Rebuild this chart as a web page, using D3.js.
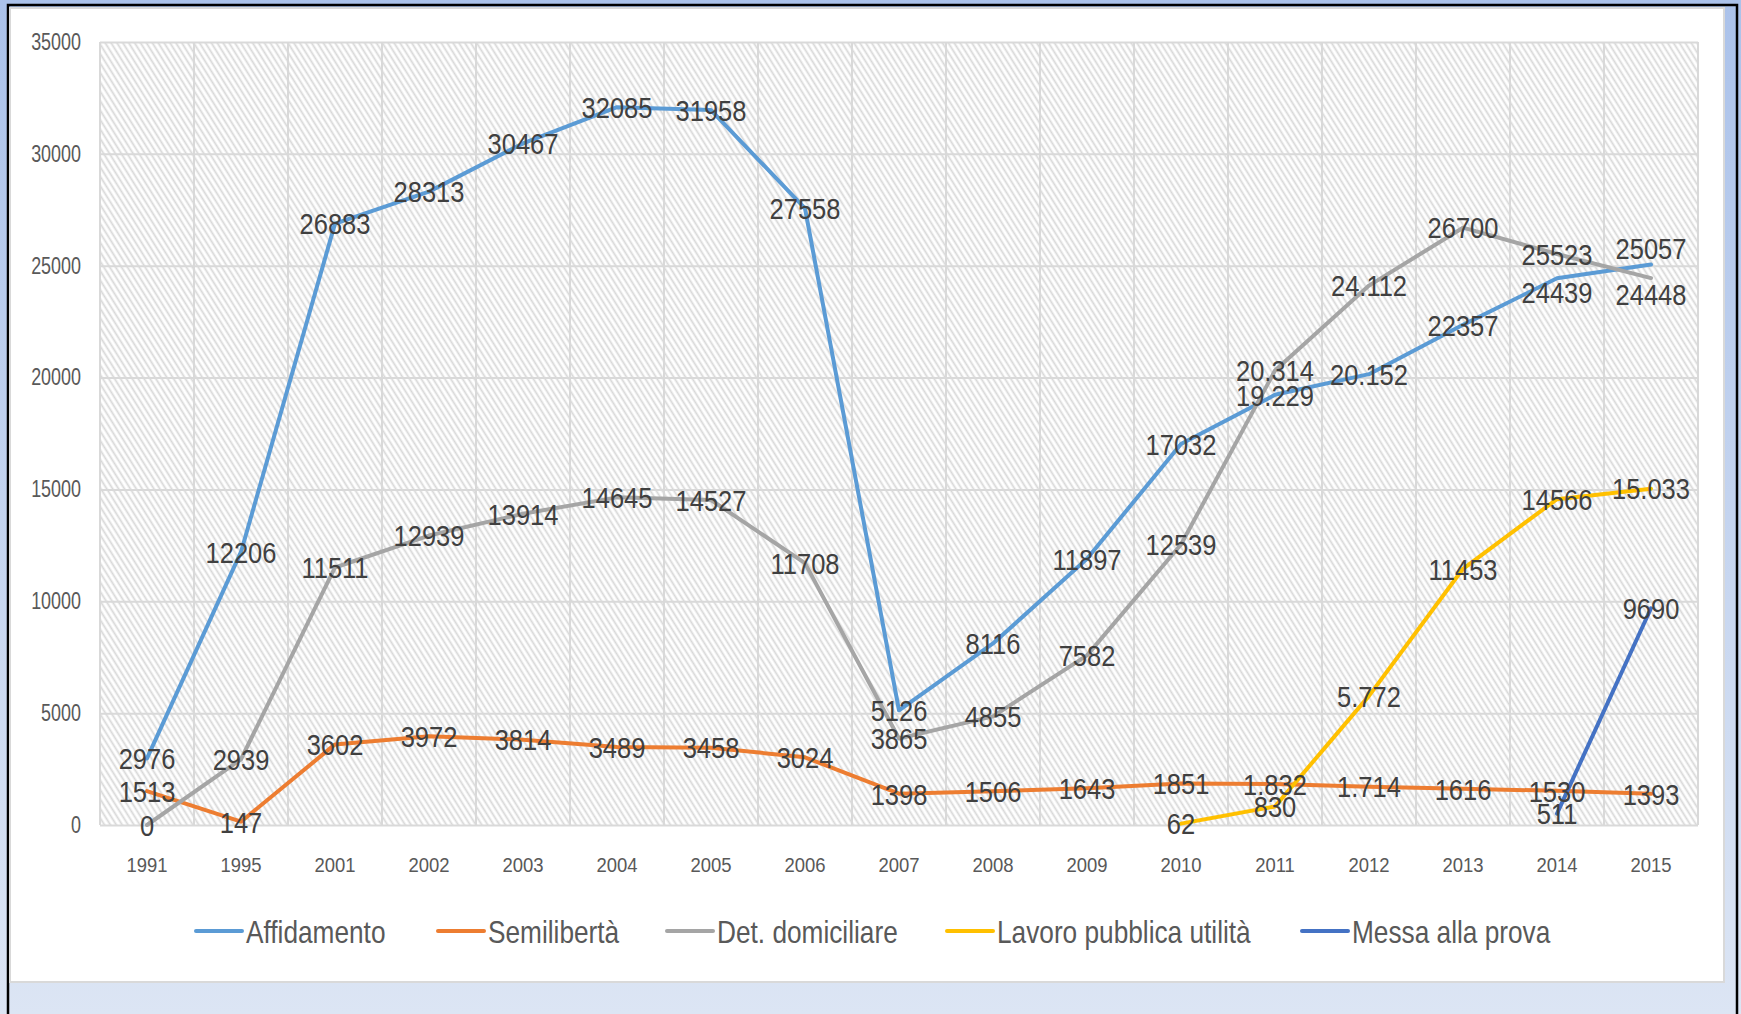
<!DOCTYPE html>
<html>
<head>
<meta charset="utf-8">
<script src="https://cdn.jsdelivr.net/npm/d3@7"></script>
<style>
  body { margin: 0; }
  text { font-family: "Liberation Sans", Arial, sans-serif; }
</style>
</head>
<body>
<script>
var years = ["1991", "1995", "2001", "2002", "2003", "2004", "2005", "2006", "2007",
             "2008", "2009", "2010", "2011", "2012", "2013", "2014", "2015"];
var yTicks = [0, 5000, 10000, 15000, 20000, 25000, 30000, 35000];

var seriesNames = ["Affidamento", "Semilibertà", "Det. domiciliare", "Lavoro pubblica utilità", "Messa alla prova"];
var seriesColors = ["#5b9bd5", "#ed7d31", "#a5a5a5", "#ffc000", "#4472c4"];

var affidamento = [2976, 12206, 26883, 28313, 30467, 32085, 31958, 27558, 5126, 8116, 11897, 17032, 19229, 20152, 22357, 24439, 25057];
var semiliberta = [1513, 147, 3602, 3972, 3814, 3489, 3458, 3024, 1398, 1506, 1643, 1851, 1832, 1714, 1616, 1530, 1393];
var detDomiciliare = [0, 2939, 11511, 12939, 13914, 14645, 14527, 11708, 3865, 4855, 7582, 12539, 20314, 24112, 26700, 25523, 24448];
var lavoro = [null, null, null, null, null, null, null, null, null, null, null, 62, 830, 5772, 11453, 14566, 15033];
var messa = [null, null, null, null, null, null, null, null, null, null, null, null, null, null, null, 511, 9690];

// label texts as printed on the chart (some use a thousands dot)
var affidamentoLabels = ["2976", "12206", "26883", "28313", "30467", "32085", "31958", "27558", "5126", "8116", "11897", "17032", "19.229", "20.152", "22357", "24439", "25057"];
var semilibertaLabels = ["1513", "147", "3602", "3972", "3814", "3489", "3458", "3024", "1398", "1506", "1643", "1851", "1.832", "1.714", "1616", "1530", "1393"];
var detDomiciliareLabels = ["0", "2939", "11511", "12939", "13914", "14645", "14527", "11708", "3865", "4855", "7582", "12539", "20.314", "24.112", "26700", "25523", "24448"];
var lavoroLabels = [null, null, null, null, null, null, null, null, null, null, null, "62", "830", "5.772", "11453", "14566", "15.033"];
var messaLabels = [null, null, null, null, null, null, null, null, null, null, null, null, null, null, null, "511", "9690"];

var seriesValues = [affidamento, semiliberta, detDomiciliare, lavoro, messa];
var seriesLabels = [affidamentoLabels, semilibertaLabels, detDomiciliareLabels, lavoroLabels, messaLabels];

// a few labels were dragged off their points in the original (series-index: px)
var labelNudge = { "0-15": 14, "0-16": -16, "2-16": 16 };

var W = 1741, H = 1014;
var plot = { left: 100, right: 1698, top: 42, bottom: 825 };

var svg = d3.select("body").append("svg")
    .attr("width", W)
    .attr("height", H);

var defs = svg.append("defs");
var grad = defs.append("linearGradient")
    .attr("id", "bg")
    .attr("x1", 0).attr("y1", 0).attr("x2", 0).attr("y2", 1);
grad.append("stop").attr("offset", "0%").attr("stop-color", "#abc2ea");
grad.append("stop").attr("offset", "100%").attr("stop-color", "#dce5f4");

var hatch = defs.append("pattern")
    .attr("id", "hatch")
    .attr("patternUnits", "userSpaceOnUse")
    .attr("width", 5).attr("height", 10)
    .attr("patternTransform", "rotate(-32)");
hatch.append("rect").attr("width", 5).attr("height", 10).attr("fill", "#fff");
hatch.append("line")
    .attr("x1", 1.5).attr("y1", 0).attr("x2", 1.5).attr("y2", 10)
    .attr("stroke", "#d8d8d8").attr("stroke-width", 1.8);

// page background and frame
svg.append("rect").attr("width", W).attr("height", H).attr("fill", "url(#bg)");
svg.append("rect")
    .attr("x", 8).attr("y", 5).attr("width", 1729).attr("height", 1030)
    .attr("fill", "none").attr("stroke", "#000").attr("stroke-width", 2.5);
svg.append("rect")
    .attr("x", 10).attr("y", 8).attr("width", 1714).attr("height", 974)
    .attr("fill", "#fff").attr("stroke", "#d9d9d9").attr("stroke-width", 2);

var x = d3.scaleBand()
    .domain(years)
    .range([plot.left, plot.right]);

var y = d3.scaleLinear()
    .domain([0, 35000])
    .range([plot.bottom, plot.top]);

var g = svg.append("g");

g.append("rect")
    .attr("x", plot.left).attr("y", plot.top)
    .attr("width", plot.right - plot.left).attr("height", plot.bottom - plot.top)
    .attr("fill", "url(#hatch)");

// gridlines
var yGrid = d3.axisLeft(y).tickValues(yTicks).tickSize(-(plot.right - plot.left)).tickFormat("");
g.append("g")
    .attr("transform", "translate(" + plot.left + ",0)")
    .call(yGrid)
    .call(function (s) {
        s.select(".domain").remove();
        s.selectAll("line").attr("stroke", "#d9d9d9").attr("stroke-width", 2);
    });

g.selectAll("line.vgrid")
    .data(years.concat(["end"]))
    .enter().append("line")
    .attr("class", "vgrid")
    .attr("x1", function (d, i) { return i < years.length ? x(d) : plot.right; })
    .attr("x2", function (d, i) { return i < years.length ? x(d) : plot.right; })
    .attr("y1", plot.top).attr("y2", plot.bottom)
    .attr("stroke", "#d9d9d9").attr("stroke-width", 2);

// axes labels (narrowed to look like the condensed office font)
var yAxis = d3.axisLeft(y).tickValues(yTicks).tickSize(0).tickPadding(0).tickFormat(d3.format("d"));
g.append("g")
    .attr("transform", "translate(81,0)")
    .call(yAxis)
    .call(function (s) {
        s.select(".domain").remove();
        s.selectAll("text")
            .attr("fill", "#595959")
            .attr("transform", "scale(0.78,1)")
            .style("font-size", "23px")
            .style("font-family", null);
    });

var xAxis = d3.axisBottom(x).tickSize(0).tickPadding(0);
g.append("g")
    .attr("transform", "translate(0,857)")
    .call(xAxis)
    .call(function (s) {
        s.select(".domain").remove();
        s.selectAll("text")
            .attr("fill", "#595959")
            .attr("dy", "0.71em")
            .attr("transform", "scale(0.88,1)")
            .style("font-size", "21px")
            .style("font-family", null);
    });

var cx = function (i) { return x(years[i]) + x.bandwidth() / 2; };

var line = d3.line()
    .defined(function (d) { return d != null; })
    .x(function (d, i) { return cx(i); })
    .y(function (d) { return y(d); });

seriesValues.forEach(function (vals, k) {
    g.append("path")
        .datum(vals)
        .attr("d", line)
        .attr("fill", "none")
        .attr("stroke", seriesColors[k])
        .attr("stroke-width", 4)
        .attr("stroke-linejoin", "round")
        .attr("stroke-linecap", "round");
});

// data labels, centred on the points
seriesValues.forEach(function (vals, k) {
    var labs = seriesLabels[k];
    g.append("g").selectAll("text")
        .data(vals.map(function (v, i) { return { v: v, i: i, t: labs[i] }; })
            .filter(function (d) { return d.v != null; }))
        .enter().append("text")
        .attr("transform", function (d) {
            var dy = labelNudge[k + "-" + d.i] || 0;
            return "translate(" + cx(d.i) + "," + (y(d.v) + dy) + ") scale(0.85,1)";
        })
        .attr("dy", "0.36em")
        .attr("text-anchor", "middle")
        .attr("fill", "#404040")
        .style("font-size", "30px")
        .text(function (d) { return d.t; });
});

// legend
var legendX = [196, 438, 667, 947, 1302];
var lg = svg.append("g");
seriesNames.forEach(function (name, k) {
    lg.append("line")
        .attr("x1", legendX[k]).attr("x2", legendX[k] + 46)
        .attr("y1", 931).attr("y2", 931)
        .attr("stroke", seriesColors[k]).attr("stroke-width", 4)
        .attr("stroke-linecap", "round");
    lg.append("text")
        .attr("transform", "translate(" + (legendX[k] + 50) + ",943) scale(0.82,1)")
        .attr("fill", "#595959")
        .style("font-size", "32px")
        .text(name);
});
</script>
</body>
</html>
